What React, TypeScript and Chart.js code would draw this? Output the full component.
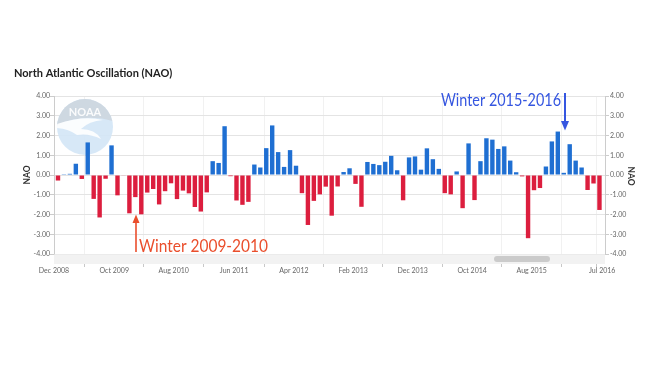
import React, { useEffect, useRef } from "react";
import { Chart, registerables } from "chart.js";

Chart.register(...registerables);

// NAO monthly index, Dec 2008 .. Jul 2016
const nao2008 = [-0.28];
const nao2009 = [0.01, 0.06, 0.57, -0.2, 1.65, -1.21, -2.15, -0.19, 1.5, -1.03, -0.02, -1.94];
const nao2010 = [-1.12, -1.99, -0.89, -0.71, -1.49, -0.82, -0.42, -1.22, -0.79, -0.93, -1.62, -1.85];
const nao2011 = [-0.88, 0.7, 0.61, 2.47, -0.06, -1.29, -1.51, -1.36, 0.53, 0.38, 1.36, 2.51];
const nao2012 = [1.16, 0.41, 1.26, 0.47, -0.92, -2.53, -1.31, -0.98, -0.59, -2.06, -0.58, 0.15];
const nao2013 = [0.34, -0.45, -1.61, 0.66, 0.56, 0.5, 0.67, 0.97, 0.24, -1.28, 0.89, 0.94];
const nao2014 = [0.27, 1.35, 0.8, 0.31, -0.92, -0.98, 0.18, -1.68, 1.6, -1.27, 0.7, 1.86];
const nao2015 = [1.79, 1.32, 1.45, 0.73, 0.14, -0.07, -3.2, -0.77, -0.66, 0.43, 1.7, 2.2];
const nao2016 = [0.11, 1.56, 0.73, 0.38, -0.76, -0.43, -1.77];

const tickLabels = ["Dec 2008", "Oct 2009", "Aug 2010", "Jun 2011", "Apr 2012", "Feb 2013", "Dec 2013", "Oct 2014", "Aug 2015", "", "Jul 2016"];
const tickIndex = [-0.67, 9.45, 19.45, 29.6, 39.65, 49.6, 59.6, 69.6, 79.6, 89.7, 91.45];

const naoValues = [...nao2008, ...nao2009, ...nao2010, ...nao2011, ...nao2012, ...nao2013, ...nao2014, ...nao2015, ...nao2016];

const BLUE = "#1f6fd2";
const RED = "#dc1e3e";
const FONT = "Lato";

function fitText(ctx: CanvasRenderingContext2D, text: string, x: number, y: number, width: number) {
  const w = ctx.measureText(text).width;
  ctx.save();
  ctx.translate(x, y);
  ctx.scale(width / w, 1);
  ctx.fillText(text, 0, 0);
  ctx.restore();
}

const decorPlugin = {
  id: "decor",
  beforeDatasetsDraw(chart: any) {
    const ctx = chart.ctx;
    // NOAA watermark
    const cx = 85, cy = 127, r = 28;
    ctx.save();
    ctx.globalAlpha = 0.9;
    ctx.beginPath();
    ctx.arc(cx, cy, r, 0, Math.PI * 2);
    ctx.clip();
    ctx.fillStyle = "#d3e6f6";
    ctx.fillRect(cx - r, cy - r, 2 * r, 2 * r);
    ctx.fillStyle = "#cdd6df";
    ctx.beginPath();
    ctx.moveTo(cx - r, cy - r);
    ctx.lineTo(cx + r, cy - r);
    ctx.lineTo(cx + r, cy - 6);
    ctx.quadraticCurveTo(cx, cy - 14, cx - r, cy - 2);
    ctx.closePath();
    ctx.fill();
    ctx.fillStyle = "#ffffff";
    ctx.beginPath();
    ctx.moveTo(cx - r, cy - 3);
    ctx.quadraticCurveTo(cx - 2, cy - 12, cx + 18, cy - 7);
    ctx.quadraticCurveTo(cx + 4, cy - 6, cx - 4, cy + 2);
    ctx.quadraticCurveTo(cx + 10, cy + 2, cx + 16, cy + 12);
    ctx.quadraticCurveTo(cx + 4, cy + 6, cx - 8, cy + 8);
    ctx.quadraticCurveTo(cx - 16, cy + 2, cx - r, cy + 1);
    ctx.closePath();
    ctx.fill();
    ctx.fillStyle = "#ffffff";
    ctx.font = `bold 11px ${FONT}`;
    ctx.textAlign = "center";
    ctx.textBaseline = "alphabetic";
    ctx.fillText("NOAA", cx, cy - 11);
    ctx.restore();
  },
  afterDraw(chart: any) {
    const ctx = chart.ctx;
    const area = chart.chartArea;
    ctx.save();
    // scrollbar band
    ctx.fillStyle = "#f2f2f2";
    ctx.fillRect(area.left, area.bottom + 0.5, area.right - area.left, 9.5);
    ctx.fillStyle = "#cbcbcb";
    ctx.beginPath();
    (ctx as any).roundRect(494, 256, 56, 6, 3);
    ctx.fill();

    // title
    ctx.fillStyle = "#222";
    ctx.font = `bold 11px ${FONT}`;
    ctx.textAlign = "left";
    ctx.textBaseline = "alphabetic";
    ctx.fillText("North Atlantic Oscillation (NAO)", 14, 77);

    // axis titles
    ctx.font = `bold 8.5px ${FONT}`;
    ctx.fillStyle = "#333";
    ctx.textAlign = "center";
    ctx.textBaseline = "middle";
    ctx.save();
    ctx.translate(27.5, 175);
    ctx.rotate(-Math.PI / 2);
    ctx.fillText("NAO", 0, 0);
    ctx.restore();
    ctx.save();
    ctx.translate(631, 176);
    ctx.rotate(Math.PI / 2);
    ctx.fillText("NAO", 0, 0);
    ctx.restore();

    // red annotation
    const red = "#ea4e2c";
    ctx.strokeStyle = red;
    ctx.fillStyle = red;
    ctx.lineWidth = 1.6;
    ctx.beginPath();
    ctx.moveTo(136, 252);
    ctx.lineTo(136, 221);
    ctx.stroke();
    ctx.beginPath();
    ctx.moveTo(136, 214.5);
    ctx.lineTo(132.5, 223);
    ctx.lineTo(139.5, 223);
    ctx.closePath();
    ctx.fill();
    ctx.font = `17px ${FONT}`;
    ctx.textAlign = "left";
    ctx.textBaseline = "alphabetic";
    fitText(ctx, "Winter 2009-2010", 139, 252, 129);

    // blue annotation
    const blue = "#3556e0";
    ctx.strokeStyle = blue;
    ctx.fillStyle = blue;
    ctx.lineWidth = 2;
    ctx.beginPath();
    ctx.moveTo(565, 93);
    ctx.lineTo(565, 122);
    ctx.stroke();
    ctx.beginPath();
    ctx.moveTo(565, 130.5);
    ctx.lineTo(561, 121);
    ctx.lineTo(569, 121);
    ctx.closePath();
    ctx.fill();
    ctx.font = `16.5px ${FONT}`;
    fitText(ctx, "Winter 2015-2016", 441, 106, 120);
    ctx.restore();
  },
};

export default function App() {
  const ref = useRef<HTMLCanvasElement | null>(null);
  useEffect(() => {
    document.body.style.margin = "0";
    const canvas = ref.current;
    if (!canvas) return;
    const data = naoValues.map((v, i) => ({ x: i, y: v }));
    const chart = new Chart(canvas, {
      type: "bar",
      data: {
        datasets: [
          {
            data: data as any,
            backgroundColor: naoValues.map((v) => (v >= 0 ? BLUE : RED)),
            borderWidth: 0,
            barPercentage: 0.74,
            categoryPercentage: 1,
          },
        ],
      },
      options: {
        animation: false,
        responsive: false,
        devicePixelRatio: 1,
        layout: { padding: { top: 96, bottom: 82, left: 0, right: 0 } },
        plugins: { legend: { display: false }, tooltip: { enabled: false }, title: { display: false } },
        scales: {
          x: {
            type: "linear",
            offset: false,
            min: -0.67,
            max: 91.93,
            afterBuildTicks: (scale: any) => {
              scale.ticks = tickIndex.map((v) => ({ value: v }));
            },
            afterFit: (scale: any) => {
              scale.height = 30;
            },
            ticks: {
              autoSkip: false,
              maxRotation: 0,
              minRotation: 0,
              padding: 0,
              color: "#666",
              font: { family: FONT, size: 7 },
              callback: (_v: any, i: number) => tickLabels[i],
            },
            grid: { color: "#f1f1f1", tickColor: "#c8c8c8", tickLength: 13, drawOnChartArea: true },
            border: { display: false },
          },
          y: {
            position: "left",
            min: -4,
            max: 4,
            afterFit: (scale: any) => {
              scale.width = 54;
            },
            ticks: {
              stepSize: 1,
              padding: 0,
              color: "#666",
              font: { family: FONT, size: 7 },
              callback: (v: any) => Number(v).toFixed(2),
            },
            grid: { color: "#e4e4e4", tickColor: "#cccccc", tickLength: 4 },
            border: { color: "#cccccc" },
          },
          y2: {
            position: "right",
            min: -4,
            max: 4,
            afterFit: (scale: any) => {
              scale.width = 45;
            },
            ticks: {
              stepSize: 1,
              padding: 1,
              color: "#666",
              font: { family: FONT, size: 7 },
              callback: (v: any) => Number(v).toFixed(2),
            },
            grid: { drawOnChartArea: false, tickColor: "#cccccc", tickLength: 4 },
            border: { color: "#cccccc" },
          },
        },
      },
      plugins: [decorPlugin],
    } as any);
    return () => chart.destroy();
  }, []);
  return (
    <div style={{ position: "absolute", left: 0, top: 0, width: 650, height: 366, background: "#fff" }}>
      <canvas ref={ref} width={650} height={366} />
    </div>
  );
}
